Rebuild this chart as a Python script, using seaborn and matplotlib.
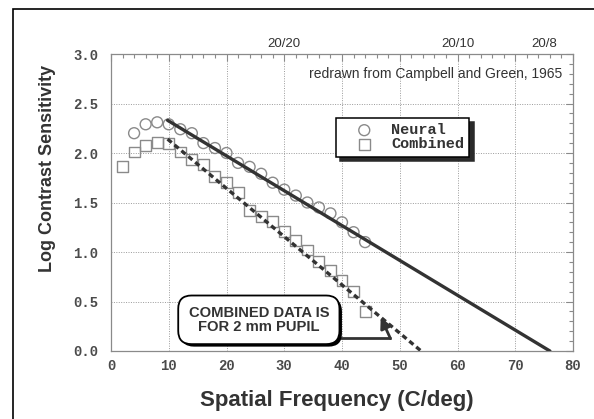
import matplotlib
matplotlib.use("Agg")
import matplotlib.pyplot as plt
import matplotlib.patheffects as pe
from matplotlib.patches import Rectangle
from matplotlib.ticker import MultipleLocator
import numpy as np
import pandas as pd
import seaborn as sns

# ---- data ----
neural_freq = [4, 6, 8, 10, 12, 14, 16, 18, 20, 22, 24, 26, 28, 30, 32, 34, 36, 38, 40, 42, 44]
neural_logcs = [2.20, 2.29, 2.31, 2.29, 2.24, 2.20, 2.10, 2.05, 2.00, 1.90, 1.86, 1.79, 1.70,
                1.63, 1.57, 1.50, 1.45, 1.39, 1.30, 1.20, 1.10]
combined_freq = [2, 4, 6, 8, 10, 12, 14, 16, 18, 20, 22, 24, 26, 28, 30, 32, 34, 36, 38, 40, 42, 44]
combined_logcs = [1.86, 2.01, 2.08, 2.11, 2.10, 2.01, 1.93, 1.88, 1.76, 1.70, 1.60, 1.42, 1.36,
                  1.31, 1.21, 1.12, 1.02, 0.90, 0.81, 0.71, 0.60, 0.40]
neural_fit_freq = [9.8, 76.0]
neural_fit_logcs = [2.33, 0.0]
combined_fit_freq = [9.8, 53.7]
combined_fit_logcs = [2.14, 0.0]
acuity_freq = [30, 60, 75]
acuity_labels = ["20/20", "20/10", "20/8"]
x_ticks = [0, 10, 20, 30, 40, 50, 60, 70, 80]
y_ticks = [0.0, 0.5, 1.0, 1.5, 2.0, 2.5, 3.0]

neural_df = pd.DataFrame({"freq": neural_freq, "logcs": neural_logcs})
combined_df = pd.DataFrame({"freq": combined_freq, "logcs": combined_logcs})
nfit_df = pd.DataFrame({"freq": neural_fit_freq, "logcs": neural_fit_logcs})
cfit_df = pd.DataFrame({"freq": combined_fit_freq, "logcs": combined_fit_logcs})

sns.set_style("white")
plt.rcParams["font.family"] = ["Liberation Sans", "DejaVu Sans"]

W, H = 594, 419
fig = plt.figure(figsize=(W / 100, H / 100), dpi=100)
ax = fig.add_axes([111 / W, 1 - 351 / H, (573 - 111) / W, (351 - 54) / H])

gray = "#8a8a8a"
dark = "#333333"

# fitted lines
sns.lineplot(data=cfit_df, x="freq", y="logcs", ax=ax, color=dark, lw=2.4,
             dashes=False, zorder=4)
ax.lines[-1].set_dashes((1.6, 1.1))
sns.lineplot(data=nfit_df, x="freq", y="logcs", ax=ax, color=dark, lw=2.4, zorder=4)

# data points
sns.scatterplot(data=neural_df, x="freq", y="logcs", ax=ax, marker="o", s=62,
                color=gray, zorder=3, label="Neural")
ax.collections[-1].set_facecolor("none")
ax.collections[-1].set_edgecolor(gray)
ax.collections[-1].set_linewidth(1.0)
sns.scatterplot(data=combined_df, x="freq", y="logcs", ax=ax, marker="s", s=62,
                color=gray, zorder=3, label="Combined")
ax.collections[-1].set_facecolor("none")
ax.collections[-1].set_edgecolor(gray)
ax.collections[-1].set_linewidth(1.0)

ax.set_xlim(0, 80)
ax.set_ylim(0, 3.0)
ax.xaxis.set_major_locator(MultipleLocator(10))
ax.xaxis.set_minor_locator(MultipleLocator(2))
ax.yaxis.set_major_locator(MultipleLocator(0.5))
ax.yaxis.set_minor_locator(MultipleLocator(0.1))
ax.set_xticks(x_ticks)
ax.set_xticklabels([str(v) for v in x_ticks])
ax.set_yticks(y_ticks)
ax.set_yticklabels([f"{v:.1f}" for v in y_ticks])
ax.tick_params(which="both", direction="in", top=True, right=True, color=gray, width=0.8)
ax.tick_params(which="major", length=5)
ax.tick_params(which="minor", length=3)
ax.tick_params(axis="y", pad=9)
ax.tick_params(axis="x", pad=6)
for lab in ax.get_xticklabels() + ax.get_yticklabels():
    lab.set_fontfamily("Liberation Mono")
    lab.set_fontweight("bold")
    lab.set_fontsize(10)
    lab.set_color("#4a4a4a")
for s in ax.spines.values():
    s.set_color(gray)
    s.set_linewidth(0.9)
ax.grid(True, which="major", color="#9a9a9a", lw=0.7, ls=(0, (1, 1.5)))

ax.set_xlabel("Spatial Frequency (C/deg)", fontsize=16, fontweight="bold", color=dark)
ax.set_ylabel("Log Contrast Sensitivity", fontsize=13, fontweight="bold", color=dark)
ax.xaxis.set_label_coords(0.489, -0.13)
ax.yaxis.set_label_coords(-0.118, 0.616)

# top acuity axis
sec = ax.secondary_xaxis("top")
sec.set_xticks(acuity_freq)
sec.set_xticklabels(acuity_labels)
sec.tick_params(length=0, pad=3, labelsize=9.5, labelcolor=dark)
sec.spines["top"].set_visible(False)

ax.text(0.976, 0.933, "redrawn from Campbell and Green, 1965", transform=ax.transAxes,
        ha="right", va="center", fontsize=10, color=dark)

# legend
leg = ax.legend(loc="upper left", bbox_to_anchor=(0.487, 0.785), frameon=True,
                fancybox=False, edgecolor="black", framealpha=1,
                prop={"family": "Liberation Mono", "weight": "bold", "size": 11},
                handlelength=3.0, handletextpad=0.25, borderpad=0.35, labelspacing=0.0,
                shadow={"ox": 3, "oy": -3, "color": "#2a2a2a", "alpha": 1},
                borderaxespad=0)
leg.get_frame().set_linewidth(1.1)
for t in leg.get_texts():
    t.set_color(dark)

# annotation box
txt = ax.text(25.6, 0.315, "COMBINED DATA IS\nFOR 2 mm PUPIL", ha="center", va="center",
              fontsize=10.6, fontweight="bold", color=dark, linespacing=1.0, zorder=6,
              bbox=dict(boxstyle="round,pad=0.7,rounding_size=0.9", fc="white",
                        ec="black", lw=1.3))
txt.get_bbox_patch().set_path_effects([
    pe.SimplePatchShadow(offset=(1.8, -1.8), shadow_rgbFace="black", alpha=1.0),
    pe.Normal()])
ax.plot([39.7, 48.4], [0.13, 0.13], color=dark, lw=2.0, zorder=5, solid_capstyle="butt")
ax.annotate("", xy=(46.7, 0.34), xytext=(48.4, 0.125),
            arrowprops=dict(arrowstyle="-|>", color=dark, lw=2.0, mutation_scale=16,
                            shrinkA=0, shrinkB=0), zorder=5)

# outer frame (partly cropped in the reference)
fig.add_artist(Rectangle((13 / W, -0.1), 1.2, 1 - 9 / H + 0.1, transform=fig.transFigure,
                         fill=False, ec="black", lw=1.2, clip_on=False))

fig.savefig("out.png", dpi=100, facecolor="white")
